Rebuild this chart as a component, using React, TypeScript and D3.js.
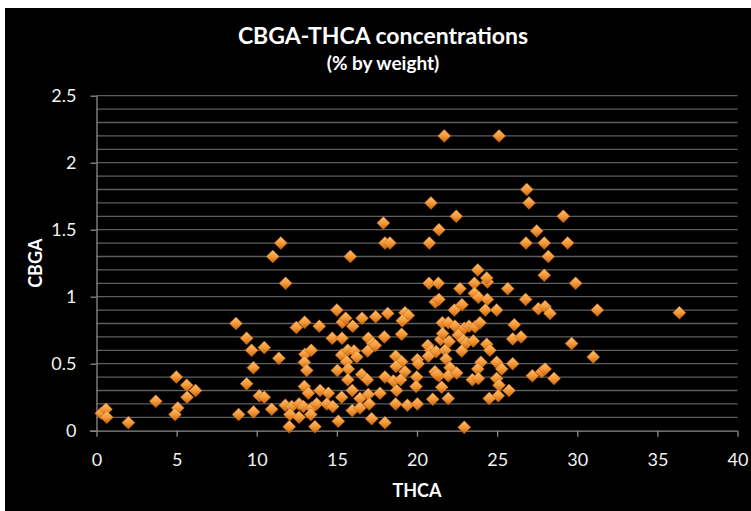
import React, { useEffect, useRef } from "react";
import * as d3 from "d3";

// THCA (% by weight) per sample
const thca = [
  0.3, 0.59, 0.64, 1.99, 3.7, 4.98, 5.07, 4.9, 5.65, 5.63, 6.18, 8.7, 9.37, 9.68, 10.47, 11.38, 9.79, 9.37,
  10.16, 10.47, 10.93, 8.87, 9.8, 11.0, 11.5, 11.8, 15.84,
  15.0, 15.34, 15.55, 15.99, 16.57, 17.42, 12.47, 12.99, 13.9, 14.71, 15.32, 16.96, 17.23, 13.01, 13.4,
  12.97, 13.12, 15.3, 15.68, 16.07, 16.24, 16.92, 15.61, 15.03, 15.71, 15.68, 16.55, 16.9, 12.97, 13.22,
  13.95, 14.47, 15.3, 15.96, 16.44, 16.96, 11.78, 12.18, 12.64, 12.91, 13.43, 13.74, 14.37, 14.74, 12.07,
  12.64, 13.37, 12.03, 13.63, 15.09, 15.96, 16.44, 17.17, 17.02,
  20.75, 21.33, 22.68, 23.58, 24.39, 25.66, 23.58, 23.83, 24.39, 21.14, 21.37, 22.81, 22.33, 24.26, 24.97,
  26.78, 27.57, 27.99, 28.3, 18.17, 19.25, 19.46, 19.08, 19.04, 17.96, 17.4, 21.58, 21.95, 22.37, 22.95,
  23.25, 23.62, 23.93, 26.07, 25.97, 26.49, 21.48, 22.01, 21.6, 22.58, 22.89, 23.1, 23.51, 24.35, 24.55,
  20.67, 20.86, 21.19, 21.75, 22.79, 20.71, 21.81, 18.67, 19.04, 18.69, 19.25, 20.02, 20.08, 22.06, 21.12,
  21.37, 21.95, 22.48, 23.99, 23.79, 24.97, 25.29, 25.97, 23.45, 23.83, 24.97, 25.12, 25.74, 25.07, 24.51,
  27.2, 27.78, 27.99, 28.55, 18.0, 18.52, 18.98, 19.98, 19.94, 18.73, 21.23, 21.54, 21.95, 20.98, 17.69,
  18.67, 19.4, 20.02, 18.0, 22.95,
  21.7, 25.12, 26.85, 26.99, 20.87, 22.45, 17.9, 21.37, 18.0, 18.31, 20.77, 27.47, 26.8, 27.94, 28.19,
  23.79, 24.35, 27.94, 29.13, 29.4, 29.9, 31.25, 36.37, 29.65, 31.0,
];

// CBGA (% by weight) per sample, same order
const cbga = [
  0.13, 0.16, 0.1, 0.06, 0.22, 0.4, 0.17, 0.12, 0.25, 0.34, 0.3, 0.8, 0.69, 0.6, 0.62, 0.54, 0.47, 0.35,
  0.26, 0.25, 0.16, 0.12, 0.14, 1.3, 1.4, 1.1, 1.3,
  0.9, 0.81, 0.84, 0.78, 0.84, 0.85, 0.77, 0.81, 0.78, 0.69, 0.69, 0.69, 0.65, 0.57, 0.6,
  0.51, 0.45, 0.565, 0.6, 0.595, 0.55, 0.595, 0.515, 0.45, 0.46, 0.38, 0.42, 0.38, 0.33, 0.28,
  0.3, 0.28, 0.25, 0.3, 0.24, 0.27, 0.19, 0.18, 0.2, 0.18, 0.17, 0.2, 0.2, 0.18, 0.12,
  0.1, 0.12, 0.03, 0.03, 0.07, 0.15, 0.17, 0.09, 0.2,
  1.1, 1.1, 1.06, 1.1, 1.11, 1.06, 1.025, 0.995, 0.98, 0.96, 0.98, 0.94, 0.9, 0.9, 0.9,
  0.98, 0.91, 0.925, 0.875, 0.875, 0.88, 0.86, 0.82, 0.72, 0.7, 0.635, 0.805, 0.805, 0.78, 0.765,
  0.78, 0.775, 0.805, 0.79, 0.685, 0.7, 0.68, 0.665, 0.725, 0.715, 0.675, 0.655, 0.67, 0.645, 0.6,
  0.635, 0.6, 0.59, 0.6, 0.595, 0.555, 0.535, 0.555, 0.515, 0.48, 0.44, 0.53, 0.5, 0.47, 0.44,
  0.41, 0.41, 0.43, 0.51, 0.46, 0.51, 0.46, 0.5, 0.38, 0.39, 0.39, 0.34, 0.3, 0.26, 0.24,
  0.41, 0.44, 0.46, 0.39, 0.4, 0.37, 0.38, 0.4, 0.33, 0.3, 0.42, 0.325, 0.24, 0.235, 0.28,
  0.2, 0.19, 0.2, 0.06, 0.025,
  2.2, 2.2, 1.8, 1.7, 1.7, 1.6, 1.55, 1.5, 1.4, 1.4, 1.4, 1.49, 1.4, 1.4, 1.3,
  1.2, 1.14, 1.16, 1.6, 1.4, 1.1, 0.9, 0.88, 0.65, 0.55,
];

const xTicks = [0, 5, 10, 15, 20, 25, 30, 35, 40];
const yTicks = [0, 0.5, 1, 1.5, 2, 2.5];

const FONT = "Lato, 'Open Sans', sans-serif";

export default function App() {
  const xAxisRef = useRef<SVGGElement>(null);
  const yAxisRef = useRef<SVGGElement>(null);

  const x = d3.scaleLinear().domain([0, 40]).range([96.5, 737.5]);
  const y = d3.scaleLinear().domain([0, 2.5]).range([430.7, 95.7]);
  const grid = d3.range(1, 26).map((i) => i / 10);
  const points = thca.map((t, i) => ({ t, c: cbga[i] }));

  useEffect(() => {
    const xa = d3.select(xAxisRef.current);
    xa.call(
      d3.axisBottom(x).tickValues(xTicks).tickSize(6).tickPadding(17).tickFormat(d3.format("d"))
    );
    xa.select(".domain").attr("stroke", "#8c8c8c").attr("stroke-width", 1.3).attr("d", "M90,0.5H737.5");
    xa.selectAll(".tick line").attr("stroke", "#8c8c8c").attr("stroke-width", 1.3);
    xa.selectAll(".tick text")
      .attr("fill", "#f2f2f2")
      .attr("font-size", 18)
      .attr("font-family", FONT);

    const ya = d3.select(yAxisRef.current);
    ya.call(
      d3.axisLeft(y).tickValues(yTicks).tickSize(6).tickPadding(14).tickFormat((d) => String(d))
    );
    ya.select(".domain").attr("stroke", "#8c8c8c").attr("stroke-width", 1.3).attr("d", `M0.5,${y(2.5)}V${y(0)}`);
    ya.selectAll(".tick line").attr("stroke", "#8c8c8c").attr("stroke-width", 1.3);
    ya.selectAll(".tick text")
      .attr("fill", "#f2f2f2")
      .attr("font-size", 18)
      .attr("font-family", FONT);
  }, []);

  return (
    <div style={{ position: "fixed", left: 0, top: 0 }}>
      <svg width={751} height={511} style={{ display: "block", background: "#ffffff" }}>
        <defs>
          <linearGradient id="dia" x1="0" y1="0" x2="0" y2="1">
            <stop offset="0%" stopColor="#ffc070" />
            <stop offset="50%" stopColor="#f49a3a" />
            <stop offset="100%" stopColor="#c8650f" />
          </linearGradient>
        </defs>
        <rect x={5} y={8} width={746} height={503} fill="#000000" />

        <text x={383} y={44} textAnchor="middle" fill="#ffffff" fontFamily={FONT} fontWeight="bold" fontSize={23}>
          CBGA-THCA concentrations
        </text>
        <text x={383} y={70} textAnchor="middle" fill="#ffffff" fontFamily={FONT} fontWeight="bold" fontSize={19}>
          (% by weight)
        </text>

        <g>
          {grid.map((g) => (
            <line
              key={g}
              x1={x(0)}
              x2={x(40)}
              y1={y(g)}
              y2={y(g)}
              stroke="#5e5e5e"
              strokeWidth={1.3}
            />
          ))}
        </g>

        <g ref={xAxisRef} transform={`translate(0,${y(0)})`} />
        <g ref={yAxisRef} transform={`translate(${x(0)},0)`} />

        <g>
          {points.map((p, i) => {
            const cx = x(p.t);
            const cy = y(p.c);
            const r = 6.5;
            return (
              <path
                key={i}
                d={`M${cx},${cy - r}L${cx + r},${cy}L${cx},${cy + r}L${cx - r},${cy}Z`}
                fill="url(#dia)"
                stroke="#b85a0a"
                strokeWidth={0.5}
              />
            );
          })}
        </g>

        <text
          transform={`translate(42,${(y(0) + y(2.5)) / 2}) rotate(-90)`}
          textAnchor="middle"
          fill="#ffffff"
          fontFamily={FONT}
          fontWeight="bold"
          fontSize={18}
        >
          CBGA
        </text>
        <text x={417} y={497} textAnchor="middle" fill="#ffffff" fontFamily={FONT} fontWeight="bold" fontSize={18}>
          THCA
        </text>
      </svg>
    </div>
  );
}
